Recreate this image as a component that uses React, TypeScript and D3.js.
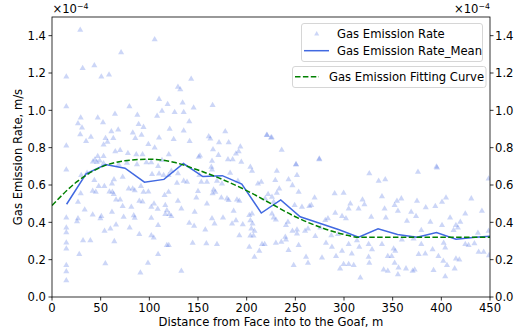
import React from "react"
import * as d3 from "d3"

// values in units of 1e-4 m/s
const scatterPoints: [number, number][] = [
  // 0 – 113 m, upper part
  [29, 1.43], [105.5, 1.38], [71, 1.31], [43.5, 1.24], [31.5, 1.225], [14.7, 1.18], [50.7, 1.18],
  [58.6, 1.19], [14.7, 1.02], [79.5, 1.02], [110, 1.06], [29.5, 0.96], [26.7, 0.93], [30.8, 0.907],
  [29, 0.87], [47, 0.96], [52.4, 0.935], [64.7, 0.98], [87.7, 0.975], [108, 0.97], [89, 0.925],
  [94, 0.91], [61, 0.886], [68, 0.896], [83, 0.88], [92, 0.868], [40, 0.857], [35, 0.834], [55, 0.85],
  [57, 0.83], [63, 0.85], [85.6, 0.85], [14.7, 0.81], [53, 0.816], [99, 0.818], [105.5, 0.8],
  [110, 0.853], [65, 0.78], [70, 0.786], [78, 0.77], [86.6, 0.764], [93, 0.764], [47, 0.754], [53, 0.754],
  // 0 – 113 m, lower part
  [44, 0.735], [49, 0.73], [46, 0.722], [53, 0.715], [42, 0.725], [14.7, 0.682], [68.5, 0.71], [77, 0.718],
  [87.3, 0.71], [97, 0.721], [102, 0.721], [109, 0.7], [36, 0.664], [30, 0.652], [43.5, 0.625],
  [63.7, 0.629], [61.6, 0.607], [72.6, 0.643], [91.4, 0.593], [102.8, 0.657], [110, 0.66], [48, 0.593],
  [53.8, 0.593], [41.8, 0.568], [45, 0.562], [29.5, 0.554], [26.7, 0.509], [59, 0.564], [62, 0.562],
  [63.4, 0.55], [65.8, 0.521], [78.8, 0.58], [82.9, 0.58], [85, 0.571], [94, 0.5625], [99, 0.564],
  [70, 0.521], [72.6, 0.486], [81.5, 0.482], [89.7, 0.514], [93, 0.51], [102, 0.482], [104.8, 0.5],
  [108.6, 0.471], [33.6, 0.468], [14.7, 0.425], [41.8, 0.441], [50.7, 0.432], [49.7, 0.421],
  [61.6, 0.455], [73.6, 0.429], [84, 0.437], [85, 0.423], [102, 0.423], [26.7, 0.42], [25.7, 0.405],
  [14.7, 0.371], [14.7, 0.346], [65.8, 0.387], [54, 0.354], [60, 0.366], [79.8, 0.371], [89.7, 0.336],
  [102, 0.33], [104.5, 0.318], [109, 0.384], [31.9, 0.303], [39.4, 0.303], [14.7, 0.291], [14.7, 0.259],
  [64, 0.298], [28, 0.229], [109, 0.229], [14.7, 0.17], [14.7, 0.136], [14.7, 0.089], [54.8, 0.179],
  [98.6, 0.182], [90.8, 0.13],
  // 113 – 226 m, upper part
  [143, 1.168], [129.4, 1.125], [131.8, 1.112], [118.8, 1.032], [134.2, 1.04], [113, 0.996], [126, 0.99],
  [135.3, 0.99], [145.5, 1.014], [165, 1.027], [141, 0.94], [120.9, 0.9], [135.3, 0.89], [178, 0.887],
  [161, 0.86], [162.7, 0.848], [125, 0.845], [141.4, 0.834], [171.6, 0.828], [181.5, 0.828],
  [193.5, 0.805], [165.4, 0.79], [191.8, 0.78], [189, 0.768], [221, 0.866], [225, 0.853], [120, 0.764],
  [152, 0.757], [171, 0.76], [220.6, 0.868], [225.7, 0.855], [236, 0.787], [250.7, 0.709],
  [274.6, 0.737], [395, 0.698],
  // 113 – 226 m, lower part
  [113, 0.732], [150.7, 0.75], [164.4, 0.729], [180.8, 0.736], [185.6, 0.736], [194.5, 0.723],
  [203.8, 0.696], [205.5, 0.675], [122.6, 0.675], [119.8, 0.652], [114.7, 0.652], [129.4, 0.661],
  [151.4, 0.652], [163.7, 0.696], [164.4, 0.682], [183, 0.664], [135.3, 0.621], [138.7, 0.616],
  [128.4, 0.611], [153.4, 0.616], [159.2, 0.616], [169.5, 0.621], [174.6, 0.607], [191, 0.621],
  [211.6, 0.607], [215, 0.616], [119.8, 0.5625], [115.7, 0.545], [150, 0.566], [148.3, 0.532],
  [166, 0.575], [167.8, 0.5625], [165, 0.554], [179.8, 0.527], [181.5, 0.518], [174, 0.532], [190, 0.521],
  [192.5, 0.514], [129.4, 0.514], [159.2, 0.5], [219, 0.527], [222, 0.55], [116.4, 0.491], [132.9, 0.473],
  [118, 0.464], [116.4, 0.443], [120.5, 0.443], [122.6, 0.432], [146.6, 0.455], [186.6, 0.461],
  [202.7, 0.4375], [205.5, 0.446], [164.4, 0.42], [167, 0.393], [175.7, 0.425], [141, 0.396], [146, 0.38],
  [185, 0.393], [189, 0.41], [196, 0.389], [203.8, 0.41], [206, 0.393], [204.8, 0.366], [208, 0.354],
  [203.8, 0.328], [207, 0.328], [157.5, 0.36], [192.5, 0.33], [118, 0.277], [120, 0.277], [144.5, 0.289],
  [158.6, 0.286], [169.5, 0.282], [202.7, 0.268], [215.8, 0.282], [218.5, 0.282], [213, 0.246],
  [208, 0.214], [132.9, 0.139],
  // 226 – 339 m
  [250.7, 0.711], [274.6, 0.741], [231, 0.675], [229.4, 0.625], [243, 0.629], [251.7, 0.652], [247, 0.598],
  [233.5, 0.58], [231, 0.557], [253.4, 0.5625], [269.8, 0.532], [290.4, 0.554], [299.6, 0.557],
  [326, 0.661], [335.6, 0.621], [226, 0.536], [227.7, 0.509], [249.3, 0.491], [256.8, 0.482],
  [264.4, 0.486], [266.4, 0.491], [306.5, 0.5], [319, 0.521], [321, 0.496], [304.8, 0.473], [315, 0.473],
  [291, 0.45], [280.8, 0.411], [283.5, 0.42], [298, 0.432], [302, 0.42], [226, 0.446], [227.7, 0.425],
  [230, 0.414], [328, 0.429], [242.4, 0.402], [240.4, 0.384], [251.7, 0.36], [251.7, 0.339], [263, 0.366],
  [260, 0.354], [247, 0.354], [275.7, 0.371], [287, 0.33], [293.8, 0.336], [270.5, 0.325], [239.7, 0.321],
  [240.4, 0.307], [230, 0.289], [235.6, 0.295], [253.4, 0.277], [281.5, 0.289], [304.8, 0.282],
  [313.3, 0.303], [315.7, 0.268], [325.3, 0.282], [328.8, 0.254], [243, 0.25], [287.6, 0.268], [298, 0.246],
  [261, 0.214], [263, 0.182], [277.4, 0.21], [291.8, 0.218], [308, 0.232], [325.3, 0.214], [326, 0.182],
  [299.6, 0.175], [304.8, 0.175], [310, 0.17], [296, 0.152], [248.3, 0.17], [316.8, 0.103],
  // 339 – 450 m
  [376, 0.67], [395.5, 0.693], [342.4, 0.629], [448.6, 0.634], [339, 0.539], [354.4, 0.514],
  [358.9, 0.527], [352, 0.491], [341.7, 0.473], [375, 0.514], [384, 0.479], [400.7, 0.509], [404.8, 0.532],
  [430.8, 0.527], [441.7, 0.461], [355.4, 0.461], [369, 0.455], [343, 0.425], [374, 0.432], [393.8, 0.486],
  [409, 0.425], [424.6, 0.446], [364.7, 0.407], [388.7, 0.402], [400.7, 0.384], [419.5, 0.402],
  [415, 0.384], [417, 0.371], [379.4, 0.357], [412.6, 0.357], [437.6, 0.343], [448.6, 0.354],
  [359.5, 0.307], [371.5, 0.312], [339, 0.282], [379.4, 0.282], [402.4, 0.289], [404, 0.264],
  [424.6, 0.282], [428, 0.277], [434, 0.286], [438.3, 0.241], [443.5, 0.241], [351, 0.259], [352.7, 0.246],
  [345, 0.218], [349, 0.218], [376.7, 0.229], [383.5, 0.232], [391, 0.254], [397, 0.218], [415, 0.205],
  [418.5, 0.2], [449, 0.223], [352, 0.182], [356, 0.157], [363.7, 0.152], [370.5, 0.139], [372.6, 0.146],
  [340.7, 0.146], [345, 0.139], [402, 0.193], [405.8, 0.17], [392, 0.143], [413.7, 0.152], [355.4, 0.121],
  [404, 0.11],
]

const meanX = [15, 35, 55, 75, 95, 115, 135, 155, 175, 195, 215, 235, 255, 275, 295, 315, 335, 355, 375, 395, 415, 435, 450]
const meanY = [0.497, 0.66, 0.71, 0.69, 0.615, 0.63, 0.715, 0.645, 0.65, 0.605, 0.45, 0.52, 0.43, 0.395, 0.36, 0.32, 0.365, 0.335, 0.32, 0.345, 0.31, 0.32, 0.325]

const fitX = [0, 25, 50, 75, 100, 125, 150, 175, 200, 225, 250, 275, 300, 315, 350, 400, 450]
const fitY = [0.49, 0.615, 0.695, 0.73, 0.738, 0.722, 0.68, 0.63, 0.57, 0.5, 0.43, 0.375, 0.335, 0.32, 0.32, 0.32, 0.32]

const xTicks = [0, 50, 100, 150, 200, 250, 300, 350, 400, 450]
const yTicks = [0, 0.2, 0.4, 0.6, 0.8, 1.0, 1.2, 1.4]

const FONT = "DejaVu Sans, sans-serif"
const FS = 11.6
const W = 519
const H = 333
const margin = { left: 52, right: 29, top: 17, bottom: 36 }
const innerW = W - margin.left - margin.right
const innerH = H - margin.top - margin.bottom

const SCATTER_COLOR = "#4169e1"
const MEAN_COLOR = "#4169e1"
const FIT_COLOR = "#008000"

export default function App() {
  const x = d3.scaleLinear().domain([0, 450]).range([0, innerW])
  const y = d3.scaleLinear().domain([0, 1.5]).range([innerH, 0])

  const tri = d3.symbol().type(d3.symbolTriangle).size(16)()
  const triLegend = d3.symbol().type(d3.symbolTriangle).size(11)()

  const meanLine = d3
    .line<number>()
    .x((_, i) => x(meanX[i]))
    .y(d => y(d))(meanY)

  const fitLine = d3
    .line<number>()
    .x((_, i) => x(fitX[i]))
    .y(d => y(d))
    .curve(d3.curveMonotoneX)(fitY)

  return (
    <svg
      width={W}
      height={H}
      style={{ position: "absolute", left: 0, top: 0, background: "#fff" }}
      fontFamily={FONT}
    >
      <defs>
        <clipPath id="plot-clip">
          <rect x={0} y={0} width={innerW} height={innerH} />
        </clipPath>
      </defs>
      <g transform={`translate(${margin.left},${margin.top})`}>
        {/* scatter */}
        <g clipPath="url(#plot-clip)">
          {scatterPoints.map(([px, py], i) => (
            <path
              key={i}
              d={tri!}
              transform={`translate(${x(px)},${y(py)})`}
              fill={SCATTER_COLOR}
              fillOpacity={0.27}
            />
          ))}
          <path d={meanLine!} fill="none" stroke={MEAN_COLOR} strokeWidth={1.5} />
          <path
            d={fitLine!}
            fill="none"
            stroke={FIT_COLOR}
            strokeWidth={1.5}
            strokeDasharray="5.5,2.4"
          />
        </g>

        {/* frame */}
        <rect x={0} y={0} width={innerW} height={innerH} fill="none" stroke="#000" strokeWidth={0.8} />

        {/* x axis */}
        {xTicks.map(t => (
          <g key={t} transform={`translate(${x(t)},${innerH})`}>
            <line y1={0} y2={3.5} stroke="#000" strokeWidth={0.8} />
            <text y={15} fontSize={FS} textAnchor="middle" fill="#000">
              {t}
            </text>
          </g>
        ))}
        <text x={innerW / 2} y={innerH + 29} fontSize={FS} textAnchor="middle" fill="#000">
          Distance from Face into to the Goaf, m
        </text>

        {/* left y axis */}
        {yTicks.map(t => (
          <g key={t} transform={`translate(0,${y(t)})`}>
            <line x1={0} x2={-3.5} stroke="#000" strokeWidth={0.8} />
            <text x={-6} dy="0.36em" fontSize={FS} textAnchor="end" fill="#000">
              {t.toFixed(1)}
            </text>
          </g>
        ))}
        <text
          transform={`translate(${22 - margin.left},${innerH / 2}) rotate(-90)`}
          fontSize={FS}
          textAnchor="middle"
          fill="#000"
        >
          Gas Emission Rate, m/s
        </text>
        <text x={0.5} y={-4} fontSize={FS} fill="#000">
          ×10<tspan dy={-4.5} fontSize={7.8}>−4</tspan>
        </text>

        {/* right y axis */}
        {yTicks.map(t => (
          <g key={t} transform={`translate(${innerW},${y(t)})`}>
            <line x1={0} x2={3.5} stroke="#000" strokeWidth={0.8} />
            <text x={5} dy="0.36em" fontSize={FS} textAnchor="start" fill="#000">
              {t.toFixed(1)}
            </text>
          </g>
        ))}
        <text x={innerW - 36} y={-4} fontSize={FS} fill="#000">
          ×10<tspan dy={-4.5} fontSize={7.8}>−4</tspan>
        </text>
      </g>

      {/* legend 1 */}
      <g>
        <rect x={301.5} y={23.5} width={181} height={38} rx={2.5} fill="#fff" fillOpacity={0.8} stroke="#cccccc" strokeWidth={0.8} />
        <path d={triLegend!} transform="translate(316.7,34)" fill={SCATTER_COLOR} fillOpacity={0.27} />
        <text x={337} y={34} dy="0.36em" fontSize={FS} fill="#000">
          Gas Emission Rate
        </text>
        <line x1={304} x2={329} y1={50.7} y2={50.7} stroke={MEAN_COLOR} strokeWidth={1.5} />
        <text x={337} y={50.7} dy="0.36em" fontSize={FS} fill="#000">
          Gas Emission Rate_Mean
        </text>
      </g>

      {/* legend 2 */}
      <g>
        <rect x={292.5} y={66.5} width={193.5} height={21} rx={2.5} fill="#fff" fillOpacity={0.8} stroke="#cccccc" strokeWidth={0.8} />
        <line x1={295} x2={319} y1={76.7} y2={76.7} stroke={FIT_COLOR} strokeWidth={1.5} strokeDasharray="5.5,2.4" />
        <text x={329} y={76.7} dy="0.36em" fontSize={FS} fill="#000">
          Gas Emission Fitting Curve
        </text>
      </g>
    </svg>
  )
}
